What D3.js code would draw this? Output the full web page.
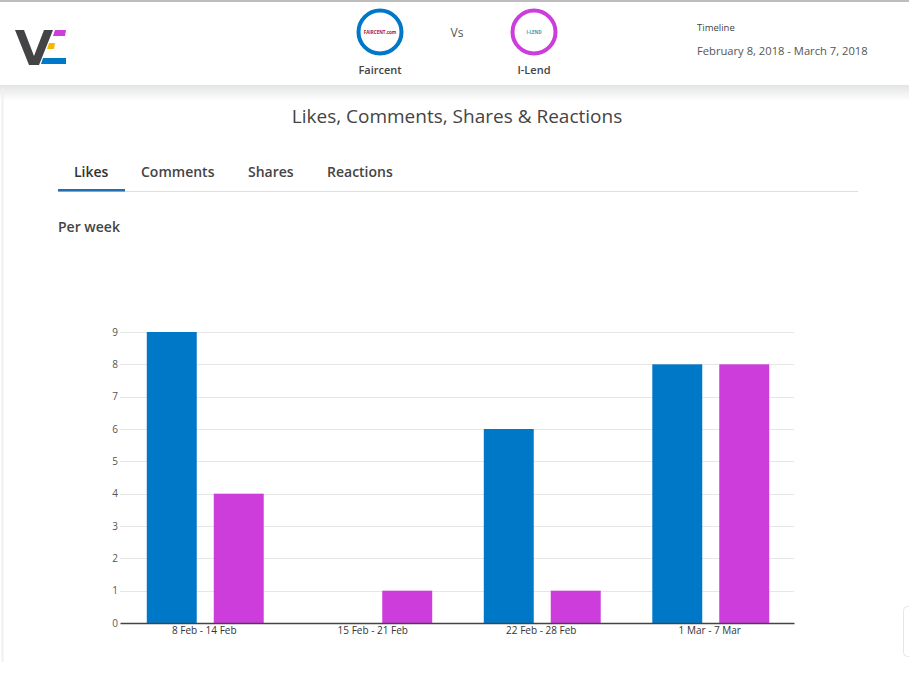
<!DOCTYPE html>
<html>
<head>
<meta charset="utf-8">
<script src="https://cdn.jsdelivr.net/npm/d3@7"></script>
<style>
  html, body { margin: 0; padding: 0; background: #fff; }
  svg { display: block; font-family: "Open Sans", "Noto Sans", sans-serif; }
</style>
</head>
<body>
<svg id="chart" width="909" height="675"></svg>
<script>
// ---- data ----
const categories = ["8 Feb - 14 Feb", "15 Feb - 21 Feb", "22 Feb - 28 Feb", "1 Mar - 7 Mar"];
const seriesNames = ["Faircent", "I-Lend"];
const faircentLikes = [9, 0, 6, 8];
const ilendLikes = [4, 1, 1, 8];
const yTicks = [0, 1, 2, 3, 4, 5, 6, 7, 8, 9];
const tabs = ["Likes", "Comments", "Shares", "Reactions"];
const seriesColors = ["#0078c8", "#cc3ddb"];

(function () {
const svg = d3.select("#chart");

// ---- page chrome ----
const defs = svg.append("defs");
const grad = defs.append("linearGradient").attr("id", "shadow").attr("x1", 0).attr("y1", 0).attr("x2", 0).attr("y2", 1);
grad.append("stop").attr("offset", "0%").attr("stop-color", "#e3e4e6");
grad.append("stop").attr("offset", "100%").attr("stop-color", "#ffffff");

svg.append("rect").attr("x", 0).attr("y", 0).attr("width", 909).attr("height", 675).attr("fill", "#fff");
svg.append("rect").attr("x", 0).attr("y", 85).attr("width", 909).attr("height", 16).attr("fill", "url(#shadow)");
svg.append("rect").attr("x", 0).attr("y", 0).attr("width", 909).attr("height", 2).attr("fill", "#bdbdbd");
svg.append("line").attr("x1", 2.5).attr("x2", 2.5).attr("y1", 88).attr("y2", 662).attr("stroke", "#f0f0f0").attr("stroke-width", 2);
// small widget edge bottom-right
svg.append("rect").attr("x", 903.5).attr("y", 606.5).attr("width", 12).attr("height", 50).attr("rx", 4)
  .attr("fill", "#fff").attr("stroke", "#e6e6e6");

// ---- logo ----
const logo = svg.append("g");
logo.append("path").attr("d", "M15,30 L24,30 L34,56 L44,30 L53,30 L39,65 L29,65 Z").attr("fill", "#444446");
logo.append("path").attr("d", "M55,30 L66,30 L65,36 L53,36 Z").attr("fill", "#cc3ddb");
logo.append("path").attr("d", "M49,43 L55,43 L54,49 L47,49 Z").attr("fill", "#f5b800");
logo.append("path").attr("d", "M43,58 L66,58 L66,64 L41,64 Z").attr("fill", "#0078c8");

// ---- competitors header ----
const comp = [
  {name: seriesNames[0], cx: 380, color: seriesColors[0], inner: "FAIRCENT.com", innerColor: "#b0102a"},
  {name: seriesNames[1], cx: 534, color: seriesColors[1], inner: "I-LEND", innerColor: "#2aa0b0"}
];
comp.forEach(c => {
  svg.append("circle").attr("cx", c.cx).attr("cy", 32).attr("r", 21.5)
    .attr("fill", "#fff").attr("stroke", c.color).attr("stroke-width", 4);
  svg.append("text").attr("x", c.cx).attr("y", 34).attr("text-anchor", "middle")
    .attr("font-size", 4.5).attr("font-weight", 700).attr("fill", c.innerColor).text(c.inner);
  svg.append("text").attr("x", c.cx).attr("y", 74).attr("text-anchor", "middle")
    .attr("font-size", 11).attr("font-weight", 600).attr("fill", "#444").text(c.name);
});
svg.append("text").attr("x", 457).attr("y", 37).attr("text-anchor", "middle")
  .attr("font-size", 12).attr("fill", "#555").text("Vs");
svg.append("text").attr("x", 697).attr("y", 31).attr("font-size", 9.5).attr("fill", "#444").text("Timeline");
svg.append("text").attr("x", 697).attr("y", 55).attr("font-size", 11.2).attr("fill", "#555").text("February 8, 2018 - March 7, 2018");

// ---- title & tabs ----
svg.append("text").attr("x", 457).attr("y", 123).attr("text-anchor", "middle")
  .attr("font-size", 19).attr("fill", "#444").text("Likes, Comments, Shares & Reactions");

svg.append("line").attr("x1", 58).attr("x2", 858).attr("y1", 191.5).attr("y2", 191.5).attr("stroke", "#dde1e4").attr("stroke-width", 1);
const tabX = [74, 141, 248, 327];
tabs.forEach((t, i) => {
  svg.append("text").attr("x", tabX[i]).attr("y", 177).attr("font-size", 14).attr("font-weight", 600)
    .attr("fill", i === 0 ? "#333" : "#444").text(t);
});
svg.append("rect").attr("x", 58).attr("y", 189).attr("width", 67).attr("height", 2.5).attr("fill", "#1f6fb2");

svg.append("text").attr("x", 58).attr("y", 232).attr("font-size", 14).attr("font-weight", 600)
  .attr("fill", "#444").text("Per week");

// ---- chart ----
const plotLeft = 120, plotRight = 794, plotTop = 332, plotBottom = 623;
const x0 = d3.scaleBand().domain(categories).range([plotLeft, plotRight]).padding(0);
const x1 = d3.scaleBand().domain(seriesNames).range([1, x0.bandwidth() + 1]).paddingInner(0.254).paddingOuter(0.385);
const y = d3.scaleLinear().domain([0, 9]).range([plotBottom, plotTop]);

const data = categories.map((c, i) => ({cat: c, values: [faircentLikes[i], ilendLikes[i]]}));

// gridlines
svg.append("g").selectAll("line").data(yTicks.filter(d => d > 0)).join("line")
  .attr("x1", plotLeft).attr("x2", plotRight)
  .attr("y1", d => Math.round(y(d)) + 0.5).attr("y2", d => Math.round(y(d)) + 0.5)
  .attr("stroke", "#e6e6e6").attr("stroke-width", 1);

// y axis labels
const yAxis = d3.axisLeft(y).tickValues(yTicks).tickSize(0).tickPadding(0).tickFormat(d3.format("d"));
const yg = svg.append("g").attr("transform", `translate(${plotLeft - 2},0)`).call(yAxis);
yg.select(".domain").remove();
yg.selectAll("text").attr("font-size", 10).attr("fill", "#555").attr("font-family", "'Open Sans', sans-serif");

// bars
const groups = svg.append("g").selectAll("g").data(data).join("g")
  .attr("transform", d => `translate(${x0(d.cat)},0)`);
groups.selectAll("rect").data(d => d.values.map((v, j) => ({name: seriesNames[j], v, j}))).join("rect")
  .attr("x", d => x1(d.name))
  .attr("width", x1.bandwidth())
  .attr("y", d => y(d.v))
  .attr("height", d => y(0) - y(d.v))
  .attr("fill", d => seriesColors[d.j]);

// x axis
const xAxis = d3.axisBottom(x0).tickSize(0).tickPadding(4);
const xg = svg.append("g").attr("transform", `translate(0,${plotBottom})`).call(xAxis);
xg.select(".domain").attr("stroke", "#444").attr("stroke-width", 1.3);
xg.selectAll("text").attr("font-size", 10).attr("fill", "#333").attr("font-family", "'Open Sans', sans-serif");
})();
</script>
</body>
</html>
